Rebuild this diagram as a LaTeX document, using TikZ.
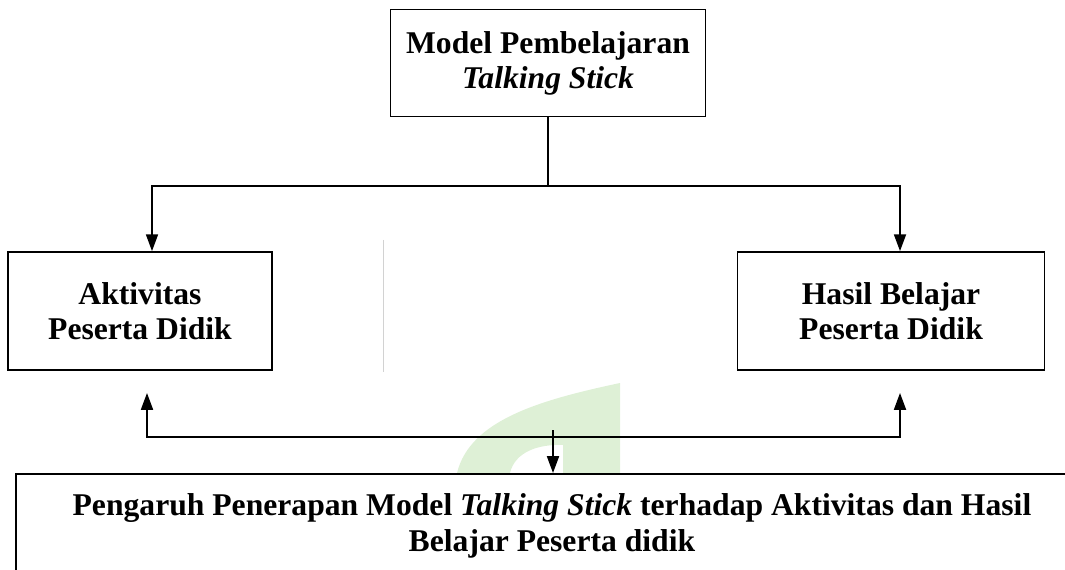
\documentclass[tikz,border=0pt]{standalone}
\usepackage{fontspec}
\setmainfont{Liberation Serif}
\usepackage{xcolor}
\usetikzlibrary{arrows.meta, positioning}
\definecolor{logogreen}{RGB}{222,240,214}
\tikzset{
	kotak/.style = {draw, line width = 1.2pt, fill = white, align = center,
		font = \bfseries\fontsize{22.5}{25}\selectfont},
	garis/.style = {line width = 1.2pt},
	panah/.style = {line width = 1.2pt, -{Triangle[width=0.3cm, length=0.42cm]}}
}
\begin{document}
\begin{tikzpicture}[x = 0.025cm, y = -0.025cm]
				\clip (0,0) rectangle (1065,570);
				% watermark
				\fill[logogreen, even odd rule] (457,473) .. controls (470,420) and (540,400) .. (620,383) -- (620,473) -- cycle
					(510,473) .. controls (515,452) and (538,444) .. (563,445) -- (563,473) -- cycle;
				\draw[gray!35, line width = 0.6pt] (383,240) -- (383,372);
				\node[kotak, minimum width = 7.875cm, minimum height = 2.675cm] (model) at (548,63) {Model Pembelajaran\\\textit{Talking Stick}};
				\node[kotak, minimum width = 6.6cm, minimum height = 2.95cm] (aktivitas) at (140,311) {Aktivitas\\Peserta Didik};
				\node[kotak, minimum width = 7.675cm, minimum height = 2.95cm] (hasil) at (891,311) {Hasil Belajar\\Peserta Didik};
				\node[kotak, minimum width = 26.8cm, minimum height = 2.6cm, anchor = north west] (pengaruh) at (15,473) {Pengaruh Penerapan Model \textit{Talking Stick} terhadap Aktivitas dan Hasil\\Belajar Peserta didik};
				\coordinate (bagi) at (548,186);
				\coordinate (gabung) at (553,437);
				\coordinate (gabungAtas) at (553,430);
				\coordinate (aktivitasBawah) at (147,393);
				\coordinate (hasilBawah) at (900,393);
				\draw[garis] (model) -- (bagi);
				\draw[panah] (bagi) -| ([xshift = 0.3cm]aktivitas.north);
				\draw[panah] (bagi) -| ([xshift = 0.225cm]hasil.north);
				\draw[panah] (gabung) -| (aktivitasBawah);
				\draw[panah] (gabung) -| (hasilBawah);
				\draw[panah] (gabungAtas) -- (pengaruh.north -| gabungAtas);
			\end{tikzpicture}
\end{document}
